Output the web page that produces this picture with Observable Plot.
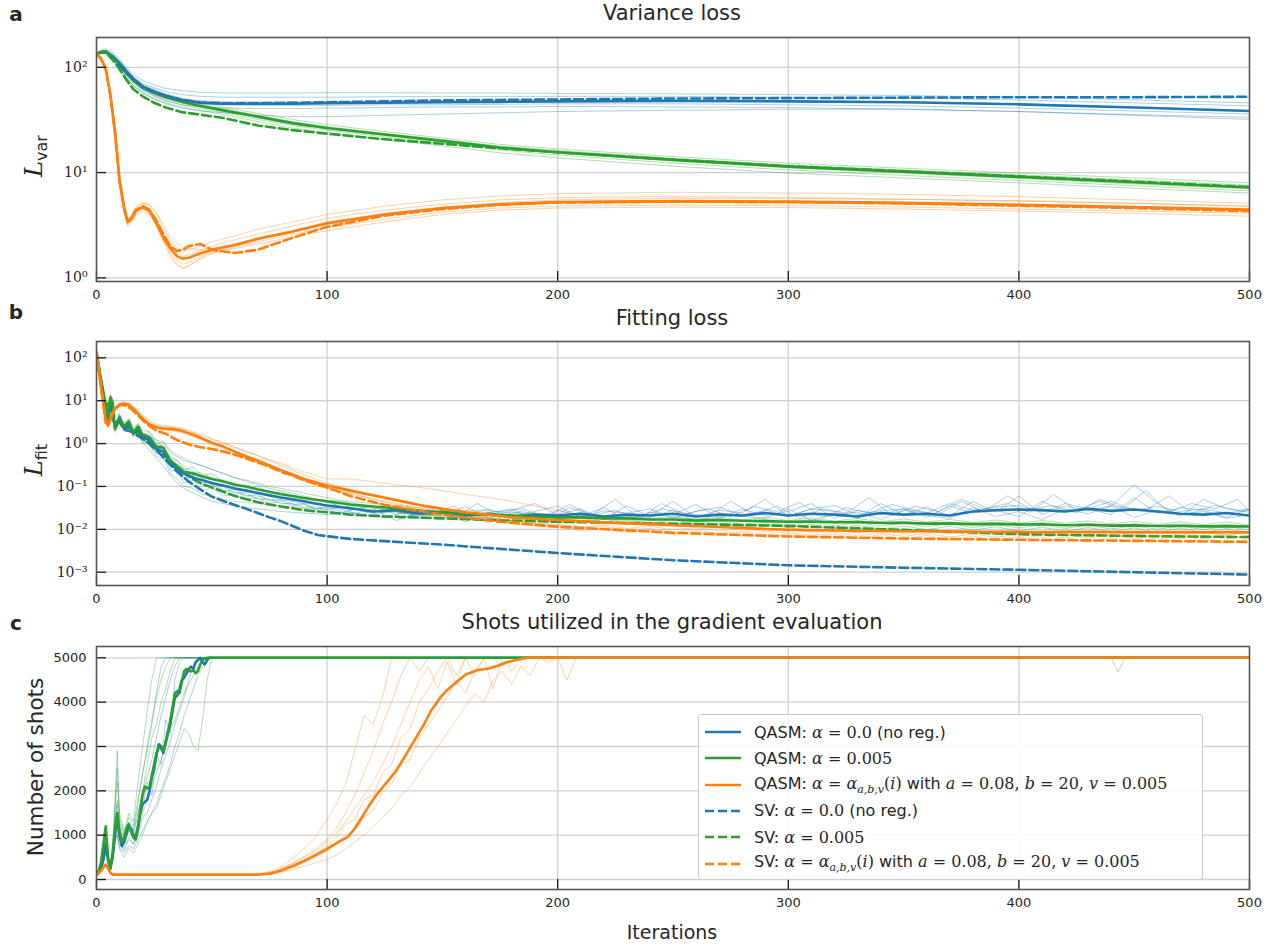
<!DOCTYPE html>
<html><head><meta charset="utf-8">
<script src="https://cdn.jsdelivr.net/npm/d3@7"></script>
<script src="https://cdn.jsdelivr.net/npm/@observablehq/plot@0.6"></script>
<style>
body{margin:0;background:#fff;}
#wrap{position:relative;width:1282px;height:950px;font-family:"DejaVu Sans",sans-serif;color:#262626;overflow:hidden;}
.t{position:absolute;transform:translate(-50%,-50%);white-space:nowrap;}
.letter{font-weight:bold;font-size:20px;}
.title{font-size:21px;}
.ylab{position:absolute;transform:translate(-50%,-50%) rotate(-90deg);white-space:nowrap;}
.mi{font-family:"DejaVu Serif",serif;font-style:italic;}
.mr{font-family:"DejaVu Serif",serif;}
#legend{position:absolute;left:698px;top:714px;width:505px;height:166px;box-sizing:border-box;background:rgba(255,255,255,0.85);border:1px solid #cccccc;border-radius:3px;}
.row{position:absolute;left:6px;height:20px;display:flex;align-items:center;font-size:16px;white-space:nowrap;}
.row svg{margin-right:13px;}
</style></head>
<body><div id="wrap"></div>
<script>
const BLUE="#1f77b4", GREEN="#2ca02c", ORANGE="#ff7f0e";
const xTicks=[0,100,200,300,400,500];
const yTicksA=[1,10,100];
const yTicksB=[0.001,0.01,0.1,1,10,100];
const yTicksC=[0,1000,2000,3000,4000,5000];

// ---------- Panel a: variance loss ----------
const itA=[0,2,4,7,10,13,16,20,25,30,37,45,55,70,85,100,125,150,175,200,250,300,350,400,450,500];
const aQB=[134,140,141,128,110,92,78,66,59,54,49,46,45,45,45,45.5,46,46.5,47,47.5,48,47.5,46.5,44.5,41.5,38.5];
const aSB=[134,139,138,122,104,88,76,65,58,53,49,46.5,45.5,45.5,46,46.5,47.5,48.5,49,49.5,50.5,51,51.5,52,52,52.5];
const aQG=[134,140,141,126,106,88,75,64,57,52,47,43,39,34,29.5,26.5,23,20,17.3,15.6,13.2,11.4,10.2,9.1,8.1,7.2];
const aSG=[134,139,138,118,96,76,62,53,46,41.5,37.5,35.5,33,28,25.3,23.4,20.7,18.8,17,15.6,13.3,11.5,10.3,9.2,8.2,7.3];
const itAO=[0,2,4,6,8,10,12,13.5,15,17,20,23,26,29,32,35,37.5,40,45,50,60,70,85,100,125,150,175,200,250,300,350,400,450,500];
const aQO=[134,120,98,55,25,8.5,4.6,3.4,3.6,4.3,4.7,4.3,3.3,2.4,1.9,1.6,1.52,1.55,1.7,1.85,2.05,2.35,2.75,3.3,4.0,4.6,5.0,5.25,5.35,5.3,5.15,4.95,4.7,4.45];
const aSO=[134,120,97,54,24,8.2,4.5,3.4,3.7,4.4,4.8,4.4,3.5,2.6,2.0,1.8,1.85,2.0,2.1,1.85,1.72,1.85,2.4,3.05,3.9,4.5,4.95,5.2,5.3,5.25,5.1,4.85,4.6,4.3];
const aBlueRuns=[
[134,145,150,140,120,100,86,75,68,63,60,58,57,57,57,57.5,57.5,57,57,56.5,56,55,54,52,49,46],
[134,143,146,134,115,96,82,71,64,59,55,53,52,52,52,52,52.5,53,53,53,53,52,51,49,46,43],
[134,141,142,129,110,92,78,67,60,54,50,48,47,47,47,47,47.5,48,48,48.5,48.5,48,47,45,42,39],
[134,139,139,125,106,88,75,64,57,51,47,45,44,43.5,43.5,43.5,44,44,44.5,45,45,44,43,41,38.5,36],
[134,138,137,122,103,85,72,61,54,48,44,42,41,40.5,40.5,41,41.5,42,42,42.5,42,41.5,40,38,35.5,33.5],
[134,137,134,118,98,80,67,57,50,45,41,38.5,37,35,34,34,35,36,37,38,39,40,40,38,35,32]];
const aGreenRuns=[
[134,142,145,131,111,93,80,69,62,56,51,46.5,42,36.5,32,28.5,24.5,21.3,18.5,16.8,14.2,12.3,11,9.9,8.9,8.0],
[134,141,143,128,108,90,77,66,59,54,49,44.5,40.5,35,30.5,27.3,23.5,20.6,17.8,16.2,13.7,11.8,10.6,9.5,8.5,7.6],
[134,140,140,124,104,86,73,62,55,50,45.5,42,38,33,28.7,26,22.5,19.6,17,15.3,12.9,11.1,9.9,8.8,7.8,7.0],
[134,139,138,121,101,83,70,59.5,53,48,44,40.5,37,32,28,25.3,21.8,19,16.4,14.7,12.3,10.6,9.4,8.4,7.5,6.7],
[134,138,136,118,98,80,67,57,50.5,46,42,39,35.5,30.5,26.5,24,20.6,17.9,15.4,13.8,11.5,9.9,8.9,8.0,7.1,6.4]];
const aOrangeRuns=[
[134,121,99,56,26,9,4.8,3.6,3.9,4.7,5.1,4.9,4.0,3.0,2.3,1.9,1.8,1.85,2.0,2.2,2.5,2.9,3.4,4.0,4.8,5.5,6.0,6.3,6.5,6.4,6.2,5.9,5.5,5.1],
[134,120,98,55,25,8.6,4.6,3.4,3.7,4.4,4.9,4.6,3.6,2.6,2.0,1.7,1.6,1.65,1.8,2.0,2.3,2.6,3.1,3.7,4.4,5.0,5.5,5.8,5.9,5.8,5.6,5.4,5.1,4.8],
[134,120,97,54,24,8.2,4.4,3.3,3.5,4.2,4.7,4.5,3.5,2.5,1.8,1.45,1.35,1.4,1.6,1.8,2.0,2.3,2.7,3.2,3.9,4.5,4.9,5.1,5.2,5.15,5.0,4.8,4.6,4.3],
[134,119,96,53,23,8,4.3,3.2,3.4,4.0,4.5,4.2,3.2,2.3,1.7,1.35,1.25,1.3,1.5,1.7,1.95,2.2,2.6,3.0,3.6,4.2,4.6,4.8,4.9,4.85,4.7,4.5,4.3,4.1],
[134,119,95,52,22,7.8,4.1,3.1,3.3,3.9,4.3,4.0,3.1,2.2,1.6,1.3,1.22,1.3,1.55,1.75,1.9,2.1,2.45,2.8,3.4,4.0,4.4,4.6,4.7,4.65,4.5,4.3,4.1,3.85],
[134,121,100,57,27,9.2,5.0,3.6,3.8,4.6,5.2,5.0,4.2,3.2,2.5,2.1,1.95,1.9,1.85,1.9,2.1,2.4,2.8,3.4,4.1,4.7,5.2,5.5,5.7,5.7,5.55,5.35,5.1,4.8]];

// ---------- Panel b: fitting loss ----------
const itB=[0,2,4,5,6,7,8,10,12,14,16,18,20,23,26,29,32,35,38,42,46,50,55,60,65,70,75,80,85,90,95,100,
110,120,130,140,150,160,170,180,190,200,210,220,230,240,250,260,270,280,290,300,310,320,330,340,350,360,370,380,390,400,410,420,430,440,450,460,470,480,490,500];
const itBs=[0,2,4,5,6,7,8,10,12,14,16,18,20,23,26,29,32,35,38,42,46,50,55,60,65,70,75,80,85,90,95,100,
105,115,125,135,145,155,165,175,185,195,205,215,225,235,245,255,265,275,285,295,305,315,325,335,345,355,365,375,385,395,405,415,425,435,445,455,465,475,485,495,500];
const bQB=[130,25,5,3.5,8,5,2.5,4,2.2,2.8,1.7,2.2,1.4,1.2,0.75,0.65,0.35,0.25,0.2,0.16,0.14,0.12,0.105,0.09,0.08,0.07,0.062,0.055,0.05,0.045,0.04,0.036,
0.031,0.026,0.028,0.023,0.025,0.021,0.023,0.02,0.022,0.021,0.023,0.02,0.022,0.021,0.023,0.02,0.022,0.021,0.024,0.021,0.023,0.022,0.02,0.024,0.022,0.023,0.021,0.026,0.028,0.029,0.028,0.026,0.03,0.027,0.029,0.026,0.023,0.022,0.024,0.021];
const bQG=[130,30,8,4,12,9,2.2,3.8,2.5,3.3,1.8,2.5,1.6,1.4,0.85,0.8,0.4,0.3,0.22,0.2,0.17,0.15,0.13,0.11,0.1,0.085,0.075,0.066,0.06,0.054,0.049,0.045,
0.038,0.034,0.031,0.027,0.025,0.023,0.022,0.021,0.02,0.019,0.019,0.018,0.018,0.017,0.017,0.016,0.0165,0.0158,0.0155,0.015,0.0152,0.0146,0.0148,0.0141,0.0142,0.0136,0.0138,0.0132,0.0134,0.013,0.0131,0.0125,0.0128,0.0122,0.0124,0.012,0.0121,0.0117,0.0119,0.0116];
const bQO=[130,20,3.5,2.6,3.5,5,6.5,8,8.5,8,6.5,5,3.8,2.8,2.4,2.25,2.2,2.1,1.9,1.6,1.3,1.05,0.85,0.65,0.5,0.4,0.31,0.24,0.19,0.15,0.125,0.105,
0.08,0.062,0.048,0.037,0.03,0.025,0.022,0.019,0.0175,0.0165,0.0155,0.0145,0.0138,0.0132,0.0125,0.012,0.0113,0.0107,0.0102,0.0098,0.0096,0.0094,0.0093,0.0092,0.009,0.009,0.0089,0.0088,0.0088,0.0087,0.0087,0.0086,0.0088,0.0086,0.0087,0.0085,0.0086,0.0085,0.0086,0.0085];
const itBD=[0,2,4,6,8,10,12,15,18,22,26,30,35,40,45,50,55,60,65,70,75,80,85,90,96,100,110,125,150,175,200,250,300,350,400,450,500];
const bSB=[130,25,5,7,2.6,3.2,2.1,1.9,1.5,1.1,0.7,0.42,0.22,0.13,0.085,0.058,0.046,0.037,0.03,0.024,0.019,0.0155,0.012,0.0093,0.0074,0.0069,0.006,0.0053,0.0044,0.0035,0.0028,0.0019,0.00145,0.00127,0.00114,0.001,0.00088];
const bSG=[130,28,7,10,2.4,3.6,2.4,2.2,1.7,1.3,0.8,0.5,0.28,0.17,0.12,0.095,0.075,0.06,0.05,0.043,0.038,0.034,0.031,0.028,0.026,0.025,0.022,0.02,0.018,0.0163,0.015,0.0135,0.012,0.0097,0.0077,0.007,0.0066];
const bSO=[130,20,3,4,6.5,7.8,8,6.5,4.5,2.8,2.0,1.7,1.2,0.95,0.82,0.75,0.65,0.55,0.45,0.36,0.29,0.22,0.18,0.14,0.11,0.095,0.06,0.037,0.022,0.015,0.0115,0.0083,0.0068,0.0061,0.0057,0.0054,0.0051];
const bBlueRuns=[
[130,28,6,3,9,6,2.8,4.5,2.0,3.2,1.5,2.5,1.6,1.8,1.0,1.1,0.6,0.5,0.4,0.35,0.3,0.25,0.2,0.16,0.13,0.11,0.09,0.08,0.07,0.06,0.05,0.045,
0.028,0.035,0.022,0.03,0.02,0.034,0.018,0.028,0.04,0.022,0.03,0.017,0.035,0.02,0.045,0.019,0.028,0.024,0.05,0.02,0.03,0.026,0.018,0.04,0.022,0.033,0.02,0.045,0.025,0.06,0.022,0.035,0.028,0.035,0.11,0.04,0.02,0.05,0.03,0.025],
[130,22,4.5,4,7,4,2.2,3.5,2.6,2.4,1.9,1.8,1.1,0.7,0.45,0.3,0.18,0.12,0.09,0.07,0.055,0.045,0.04,0.035,0.032,0.03,0.028,0.026,0.025,0.024,0.023,0.022,
0.025,0.02,0.03,0.018,0.026,0.015,0.024,0.03,0.017,0.028,0.02,0.032,0.016,0.025,0.022,0.038,0.018,0.03,0.021,0.026,0.04,0.018,0.028,0.022,0.03,0.019,0.035,0.024,0.028,0.02,0.045,0.026,0.03,0.022,0.055,0.024,0.032,0.028,0.019,0.03],
[130,30,5.5,2.8,8,5,3,4,2.3,2.8,1.7,2.0,1.3,0.9,0.6,0.5,0.25,0.22,0.12,0.14,0.08,0.09,0.06,0.065,0.05,0.055,0.04,0.045,0.035,0.038,0.03,0.032,
0.022,0.03,0.016,0.024,0.019,0.022,0.014,0.026,0.02,0.018,0.025,0.014,0.022,0.019,0.028,0.015,0.024,0.02,0.018,0.03,0.016,0.022,0.025,0.017,0.028,0.021,0.018,0.032,0.02,0.026,0.017,0.03,0.023,0.035,0.019,0.028,0.022,0.026,0.018,0.022],
[130,26,5,3.6,10,5.5,2.5,5,2.0,3.0,2.0,2.3,1.8,1.5,1.2,0.8,0.5,0.4,0.25,0.28,0.18,0.2,0.13,0.12,0.09,0.1,0.07,0.075,0.06,0.055,0.05,0.042,
0.03,0.024,0.026,0.02,0.028,0.022,0.03,0.02,0.026,0.035,0.019,0.027,0.024,0.03,0.018,0.026,0.033,0.021,0.028,0.02,0.03,0.036,0.022,0.027,0.03,0.024,0.04,0.028,0.033,0.036,0.025,0.04,0.03,0.045,0.028,0.034,0.026,0.03,0.024,0.028]];
const bBlueRunsShifted=[
[130,24,5.5,3.2,8.5,5.2,2.6,4.2,2.1,2.9,1.6,2.1,1.3,1.0,0.7,0.55,0.35,0.3,0.2,0.18,0.12,0.13,0.08,0.085,0.06,0.065,0.045,0.05,0.038,0.04,0.03,0.034,
0.03,0.022,0.036,0.02,0.03,0.018,0.04,0.02,0.027,0.016,0.032,0.022,0.05,0.019,0.03,0.024,0.02,0.045,0.022,0.035,0.018,0.03,0.024,0.055,0.021,0.035,0.026,0.05,0.03,0.04,0.025,0.065,0.028,0.045,0.03,0.08,0.025,0.04,0.03,0.05,0.026],
[130,27,5,3.4,9,5.8,2.4,4.4,2.4,2.6,1.8,1.9,1.5,1.3,0.9,0.7,0.45,0.33,0.26,0.2,0.15,0.11,0.1,0.07,0.07,0.05,0.05,0.04,0.04,0.032,0.034,0.028,
0.024,0.032,0.018,0.028,0.022,0.035,0.016,0.026,0.03,0.019,0.038,0.021,0.028,0.017,0.04,0.023,0.03,0.02,0.034,0.026,0.042,0.019,0.032,0.024,0.038,0.028,0.022,0.045,0.026,0.06,0.03,0.036,0.024,0.05,0.032,0.028,0.06,0.024,0.036,0.028,0.03]];
const bGreenRuns=[
[130,32,9,4.5,13,10,2.5,4.2,2.8,3.6,2.0,2.8,2.0,1.9,1.2,1.1,0.7,0.55,0.45,0.36,0.3,0.25,0.2,0.16,0.14,0.12,0.1,0.09,0.08,0.07,0.062,0.055,
0.042,0.034,0.033,0.027,0.027,0.023,0.024,0.02,0.022,0.018,0.021,0.017,0.02,0.016,0.019,0.017,0.018,0.015,0.017,0.0145,0.017,0.014,0.016,0.0138,0.0155,0.0132,0.015,0.013,0.0148,0.0125,0.0145,0.0122,0.014,0.012,0.0138,0.0118,0.0135,0.0116,0.013,0.0115],
[130,28,7,3.6,11,8,2.0,3.5,2.2,3.0,1.6,2.2,1.2,0.9,0.5,0.45,0.2,0.15,0.1,0.09,0.065,0.06,0.05,0.045,0.042,0.04,0.037,0.035,0.033,0.031,0.03,0.029,
0.035,0.031,0.028,0.024,0.024,0.02,0.021,0.018,0.019,0.016,0.018,0.015,0.017,0.014,0.0165,0.0135,0.016,0.013,0.015,0.0125,0.0148,0.012,0.0142,0.0118,0.014,0.0115,0.0135,0.011,0.013,0.0108,0.0128,0.0105,0.0125,0.0102,0.0122,0.01,0.012,0.0098,0.0118,0.0096],
[130,34,10,5,14,11,2.8,4.8,3.0,4.0,2.2,3.0,1.7,1.5,0.9,0.9,0.45,0.4,0.3,0.22,0.2,0.16,0.14,0.11,0.1,0.085,0.075,0.068,0.06,0.055,0.05,0.047,
0.045,0.04,0.036,0.032,0.03,0.027,0.027,0.024,0.024,0.021,0.022,0.019,0.021,0.018,0.02,0.017,0.0195,0.0165,0.019,0.016,0.0185,0.0155,0.018,0.015,0.0175,0.0148,0.017,0.0145,0.0165,0.014,0.016,0.0138,0.0158,0.0135,0.0155,0.013,0.015,0.0128,0.0148,0.0125],
[130,26,6,3.2,10,7,1.8,3.2,2.0,2.6,1.4,2.0,1.0,1.2,0.6,0.7,0.3,0.3,0.16,0.18,0.1,0.11,0.08,0.075,0.06,0.06,0.05,0.048,0.045,0.04,0.038,0.035,
0.031,0.027,0.025,0.021,0.021,0.018,0.019,0.016,0.017,0.0145,0.016,0.0135,0.015,0.0125,0.0145,0.012,0.014,0.0115,0.0135,0.011,0.013,0.0105,0.0125,0.0102,0.012,0.0098,0.0118,0.0095,0.0115,0.0092,0.0112,0.009,0.011,0.0088,0.0108,0.0086,0.0106,0.0085,0.0104,0.0083]];
const bOrangeRuns=[
[130,22,4,3,4,5.5,7,8.5,9,8.5,7,5.5,4.2,3.2,2.7,2.5,2.4,2.3,2.1,1.8,1.5,1.25,1.0,0.8,0.65,0.52,0.42,0.34,0.27,0.22,0.18,0.15,
0.15,0.13,0.11,0.095,0.08,0.065,0.055,0.045,0.035,0.028,0.022,0.019,0.016,0.0145,0.013,0.0125,0.011,0.0115,0.0098,0.011,0.009,0.0105,0.0085,0.01,0.0088,0.0098,0.0082,0.0096,0.008,0.0094,0.0078,0.0092,0.008,0.009,0.0076,0.0093,0.0079,0.0088,0.0075,0.009],
[130,18,3,2.4,3.4,4.8,6,7.5,8,7.5,6,4.5,3.5,2.7,2.3,2.1,2.0,1.9,1.7,1.45,1.2,0.95,0.75,0.58,0.45,0.36,0.28,0.22,0.17,0.135,0.11,0.09,
0.068,0.052,0.04,0.031,0.025,0.021,0.018,0.016,0.0135,0.0125,0.011,0.0115,0.0095,0.0105,0.0085,0.0098,0.008,0.0092,0.0075,0.0088,0.0072,0.0085,0.007,0.0082,0.0068,0.008,0.0066,0.0078,0.0065,0.0077,0.0064,0.0076,0.0062,0.0075,0.006,0.0074,0.0061,0.0073,0.006,0.0072],
[130,24,4.5,3.2,4.5,6,7.5,9,9.5,9,7.5,6,4.6,3.5,2.9,2.6,2.5,2.4,2.2,1.9,1.6,1.3,1.05,0.83,0.66,0.52,0.4,0.31,0.24,0.19,0.15,0.12,
0.085,0.063,0.047,0.036,0.028,0.022,0.019,0.016,0.014,0.013,0.0115,0.0125,0.0105,0.0118,0.0098,0.011,0.0092,0.0105,0.0088,0.01,0.0085,0.0098,0.0082,0.0095,0.008,0.0093,0.0078,0.0092,0.0077,0.009,0.0076,0.0089,0.0075,0.0088,0.0074,0.0087,0.0073,0.0086,0.0072,0.0085],
[130,20,3.8,2.8,3.8,5.2,6.5,8,8.5,8,6.5,5,3.8,2.9,2.4,2.2,2.1,2.0,1.8,1.55,1.3,1.05,0.82,0.62,0.48,0.38,0.29,0.23,0.18,0.14,0.115,0.095,
0.07,0.05,0.038,0.029,0.023,0.019,0.016,0.014,0.012,0.011,0.0095,0.0105,0.0085,0.0095,0.0075,0.009,0.007,0.0085,0.0065,0.008,0.0062,0.0078,0.006,0.0075,0.0058,0.0072,0.0055,0.007,0.0054,0.0068,0.0052,0.0066,0.005,0.0065,0.0049,0.0064,0.005,0.0062,0.0048,0.006]];

// ---------- Panel c: shots ----------
const itC=[0,1,2,3,4,5,6,7,8,9,10,11,12,13,14,15,16,17,18,19,20,21,22,23,24,25,26,27,28,29,30,31,32,33,34,35,36,37,38,39,40,41,42,43,44,45,46,47,48,49,50,51,52,53,54,55,500];
const cQB=[100,150,250,450,800,450,250,500,1000,1350,1000,750,850,1050,1200,1150,1000,950,1200,1500,1700,1750,1800,2000,2300,2500,2800,3050,3000,2850,3100,3350,3500,3800,4100,4150,4300,4500,4550,4650,4750,4800,4750,4900,4950,5000,4900,4850,4950,5000,5000,5000,5000,5000,5000,5000,5000];
const cQG=[100,200,400,800,1200,500,250,600,1100,1500,1100,850,950,1150,1250,1100,950,900,1150,1550,1900,2100,2050,2100,2350,2600,2850,3000,2950,2900,3100,3300,3600,3900,4200,4250,4200,4450,4700,4750,4700,4700,4720,4650,4700,4850,4950,4980,5000,5000,5000,5000,5000,5000,5000,5000,5000];
const itCQO=[0,2,4,5,6,7,70,75,80,85,90,95,100,105,109,112,115,118,122,126,130,134,138,142,145,149,152,156,160,165,170,174,178,182,187,500];
const cQO=[110,200,340,250,150,110,110,130,200,300,420,550,690,850,960,1150,1400,1650,1950,2200,2460,2800,3150,3500,3800,4100,4270,4450,4620,4720,4760,4820,4900,4950,5000,5000];
const itCT=[0,2,4,5,6,7,8,9,10,12,14,16,18,20,22,24,26,28,30,32,34,36,38,40,42,44,46,48,50,52,55,440,443,446,500];
const cBlueRuns=[
[100,300,900,400,200,600,1500,2900,1500,1100,1400,1200,1800,2400,2900,3500,4200,4800,5000,5000,5000,5000,5000,5000,5000,5000,5000,5000,5000,5000,5000,5000,5000,5000,5000],
[100,250,700,450,250,500,1100,1300,900,800,1100,900,1300,1600,2200,1900,2800,2600,3600,3300,4500,4900,5000,5000,5000,5000,5000,5000,5000,5000,5000,5000,5000,5000,5000],
[100,200,600,400,300,450,900,1100,800,650,900,800,1000,1400,1500,1800,2100,2500,2800,3100,3500,3800,4100,4500,4800,5000,5000,5000,5000,5000,5000,5000,5000,5000,5000],
[100,220,650,350,250,400,800,1000,700,600,750,700,900,1100,1300,1500,1700,2000,2300,2600,3000,3300,3700,4000,4300,4600,4800,4950,5000,5000,5000,5000,5000,5000,5000],
[100,280,800,500,350,700,1300,1800,1200,900,1300,1100,1500,2000,2300,2700,3200,3700,4100,4500,4800,5000,5000,5000,5000,5000,5000,5000,5000,5000,5000,5000,5000,5000,5000]];
const cGreenRuns=[
[100,350,1200,500,250,800,1800,2500,1400,1000,1500,1300,2200,3000,3800,4500,5000,5000,5000,5000,5000,5000,5000,5000,5000,5000,5000,5000,5000,5000,5000,5000,5000,5000,5000],
[100,300,1000,450,300,600,1400,1700,1000,800,1100,1000,1500,2000,2600,3200,3500,4000,4300,4700,5000,5000,5000,5000,5000,5000,5000,5000,5000,5000,5000,5000,5000,5000,5000],
[100,250,800,400,250,500,1000,1300,900,700,950,800,1100,1500,1800,2100,2400,2700,3000,3400,3600,3900,4200,4400,4600,4800,4950,5000,5000,5000,5000,5000,4680,5000,5000],
[100,200,700,350,250,450,900,1000,700,500,700,600,800,1000,1300,1500,1600,1900,2200,2500,2800,3100,3400,3300,3000,2900,3600,4500,5000,5000,5000,5000,5000,5000,5000],
[100,320,1100,550,300,700,1600,2200,1300,1000,1200,1100,1700,2400,3000,3600,4100,4500,4800,5000,5000,5000,5000,5000,5000,5000,5000,5000,5000,5000,5000,5000,5000,5000,5000]];
const itCO=[0,2,4,5,6,7,60,70,75,80,85,90,95,100,104,108,112,116,120,124,128,132,136,140,144,148,152,156,160,164,168,172,176,180,184,188,192,196,200,204,208,500];
const cOrangeRuns=[
[110,200,330,250,150,110,110,120,180,300,480,700,950,1350,1700,2150,2900,3700,3500,4100,5000,5000,5000,5000,5000,5000,5000,5000,5000,5000,5000,5000,5000,5000,5000,5000,5000,5000,5000,5000,5000,5000],
[110,200,330,250,150,110,110,115,160,250,370,520,700,900,1150,1500,1900,2400,2900,3500,4000,4600,5000,4700,5000,5000,5000,5000,5000,5000,5000,5000,5000,5000,5000,5000,5000,5000,5000,5000,5000,5000],
[110,200,330,250,150,110,110,110,140,220,330,450,580,750,950,1250,1350,1800,1900,2400,2600,3200,3400,4000,4300,4700,5000,4600,5000,5000,5000,5000,5000,5000,5000,5000,5000,5000,5000,5000,5000,5000],
[110,200,330,250,150,110,110,110,130,190,280,380,500,650,800,1000,1100,1400,1550,1950,2150,2600,2700,3200,3500,3800,4100,4500,4200,4700,5000,5000,4800,5000,5000,5000,5000,5000,5000,5000,5000,5000],
[110,200,330,250,150,110,110,110,120,160,220,300,380,450,550,700,850,1000,1200,1400,1600,1900,2100,2400,2700,3000,3300,3600,3900,4200,4000,4500,4700,4400,4800,4600,5000,4900,5000,4500,5000,5000],
[110,200,330,250,150,110,110,115,150,240,360,500,650,850,1050,1300,1600,1900,2200,2600,3000,3500,4000,4500,4800,4300,4900,4400,5000,4600,5000,4300,5000,4700,5000,5000,5000,5000,5000,5000,5000,5000]];

// ---------- helpers ----------
const wrap=document.getElementById("wrap");
const sup={"-":"\u207B","0":"\u2070","1":"\u00B9","2":"\u00B2","3":"\u00B3"};
const logFmt=d=>"10"+String(Math.round(Math.log10(d))).split("").map(c=>sup[c]).join("");
function thin(xs,runs,color){
  const data=runs.flatMap((ys,k)=>ys.map((y,i)=>({x:xs[i],y,k})));
  return Plot.line(data,{x:"x",y:"y",z:"k",stroke:color,strokeWidth:0.9,strokeOpacity:0.4,clip:true});
}
function mean(xs,ys,color,dashed){
  return Plot.line(xs.map((x,i)=>({x,y:ys[i]})),{x:"x",y:"y",stroke:color,strokeWidth:2.6,strokeDasharray:dashed?"9,4":null,clip:true});
}
function panel({top,height,mt,mb,y,yTicks,yFmt,yFont,yFontSize,yPad,marks}){
  const innerH=height-mt-mb, innerW=1282-96-33;
  const p=Plot.plot({
    width:1282,height,marginLeft:96,marginRight:33,marginTop:mt,marginBottom:mb,
    x:{domain:[0,500]},
    y,
    style:{background:"transparent",fontFamily:"DejaVu Sans",fontSize:"13px",color:"#262626",overflow:"visible"},
    marks:[
      Plot.gridX(xTicks.slice(1,-1),{stroke:"#d0d0d0",strokeOpacity:1,strokeWidth:1.3}),
      Plot.gridY(yTicks,{stroke:"#d0d0d0",strokeOpacity:1,strokeWidth:1.3}),
      ...marks,
      Plot.ruleX(xTicks,{x:d=>d,insetTop:innerH-10,stroke:"#1a1a1a",strokeWidth:1.3}),
      Plot.ruleY(yTicks,{y:d=>d,insetRight:innerW-10,stroke:"#1a1a1a",strokeWidth:1.3}),
      Plot.frame({stroke:"#555",strokeWidth:1.6}),
      Plot.axisX(xTicks,{tickSize:0,tickPadding:8,label:null,fontSize:13}),
      Plot.axisY(yTicks,{tickSize:0,tickPadding:yPad,label:null,tickFormat:yFmt,fontFamily:yFont,fontSize:yFontSize})
    ]
  });
  p.style.position="absolute";p.style.left="0px";p.style.top=top+"px";
  wrap.appendChild(p);
}

panel({top:0,height:310,mt:37,mb:29,y:{type:"log",domain:[0.923,192]},yTicks:yTicksA,yFmt:logFmt,yFont:"DejaVu Serif",yFontSize:14,yPad:9,
  marks:[
    thin(itA,aBlueRuns,BLUE),thin(itA,aGreenRuns,GREEN),thin(itAO,aOrangeRuns,ORANGE),
    mean(itA,aQB,BLUE,false),mean(itA,aQG,GREEN,false),mean(itAO,aQO,ORANGE,false),
    mean(itA,aSB,BLUE,true),mean(itA,aSG,GREEN,true),mean(itAO,aSO,ORANGE,true)
  ]});
panel({top:310,height:305,mt:31,mb:30,y:{type:"log",domain:[0.00049,240]},yTicks:yTicksB,yFmt:logFmt,yFont:"DejaVu Serif",yFontSize:14,yPad:9,
  marks:[
    mean(itBD,bSB,BLUE,true),mean(itBD,bSG,GREEN,true),
    thin(itB,bBlueRuns,BLUE),thin(itBs,bBlueRunsShifted,BLUE),thin(itB,bGreenRuns,GREEN),thin(itB,bOrangeRuns,ORANGE),
    mean(itB,bQB,BLUE,false),mean(itB,bQG,GREEN,false),mean(itB,bQO,ORANGE,false),
    mean(itBD,bSO,ORANGE,true)
  ]});
panel({top:615,height:300,mt:31,mb:26,y:{domain:[-225,5255]},yTicks:yTicksC,yFmt:d=>String(d),yFont:"DejaVu Sans",yFontSize:13,yPad:10,
  marks:[
    thin(itCT,cBlueRuns,BLUE),thin(itCT,cGreenRuns,GREEN),thin(itCO,cOrangeRuns,ORANGE),
    mean(itC,cQB,BLUE,false),mean(itC,cQG,GREEN,false),mean(itCQO,cQO,ORANGE,false)
  ]});

// ---------- text ----------
function addText(html,cls,x,y,extra){
  const d=document.createElement("div");d.className=cls;d.innerHTML=html;
  d.style.left=x+"px";d.style.top=y+"px";if(extra)Object.assign(d.style,extra);wrap.appendChild(d);
}
addText("a","t letter",16,14);
addText("b","t letter",16,312);
addText("c","t letter",16,623);
addText("Variance loss","t title",672,13);
addText("Fitting loss","t title",672,318);
addText("Shots utilized in the gradient evaluation","t title",672,622);
addText("Iterations","t",672,932,{fontSize:"19px"});
addText('<span class="mi" style="font-size:24px">L</span><span style="font-size:16px;position:relative;top:5px">var</span>',"ylab",34,156);
addText('<span class="mi" style="font-size:24px">L</span><span style="font-size:16px;position:relative;top:5px">fit</span>',"ylab",34,460);
addText("Number of shots","ylab",35,767,{fontSize:"21.5px"});

// ---------- legend ----------
const legendItems=[
  {color:BLUE,dash:false,html:'QASM: <span class="mi">α</span><span class="mr"> = 0.0</span> (no reg.)'},
  {color:GREEN,dash:false,html:'QASM: <span class="mi">α</span><span class="mr"> = 0.005</span>'},
  {color:ORANGE,dash:false,html:'QASM: <span class="mi">α</span><span class="mr"> = </span><span class="mi">α<sub style="font-size:11px">a,b,v</sub></span><span class="mr">(</span><span class="mi">i</span><span class="mr">)</span> with <span class="mi">a</span><span class="mr"> = 0.08, </span><span class="mi">b</span><span class="mr"> = 20, </span><span class="mi">v</span><span class="mr"> = 0.005</span>'},
  {color:BLUE,dash:true,html:'SV: <span class="mi">α</span><span class="mr"> = 0.0</span> (no reg.)'},
  {color:GREEN,dash:true,html:'SV: <span class="mi">α</span><span class="mr"> = 0.005</span>'},
  {color:ORANGE,dash:true,html:'SV: <span class="mi">α</span><span class="mr"> = </span><span class="mi">α<sub style="font-size:11px">a,b,v</sub></span><span class="mr">(</span><span class="mi">i</span><span class="mr">)</span> with <span class="mi">a</span><span class="mr"> = 0.08, </span><span class="mi">b</span><span class="mr"> = 20, </span><span class="mi">v</span><span class="mr"> = 0.005</span>'}
];
const leg=document.createElement("div");leg.id="legend";wrap.appendChild(leg);
legendItems.forEach((it,i)=>{
  const r=document.createElement("div");r.className="row";r.style.top=(7+i*26.3)+"px";
  r.innerHTML=`<svg width="36" height="6"><line x1="0" y1="3" x2="36" y2="3" stroke="${it.color}" stroke-width="2.6" ${it.dash?'stroke-dasharray="9,4"':''}/></svg><span>${it.html}</span>`;
  leg.appendChild(r);
});
</script></body></html>
